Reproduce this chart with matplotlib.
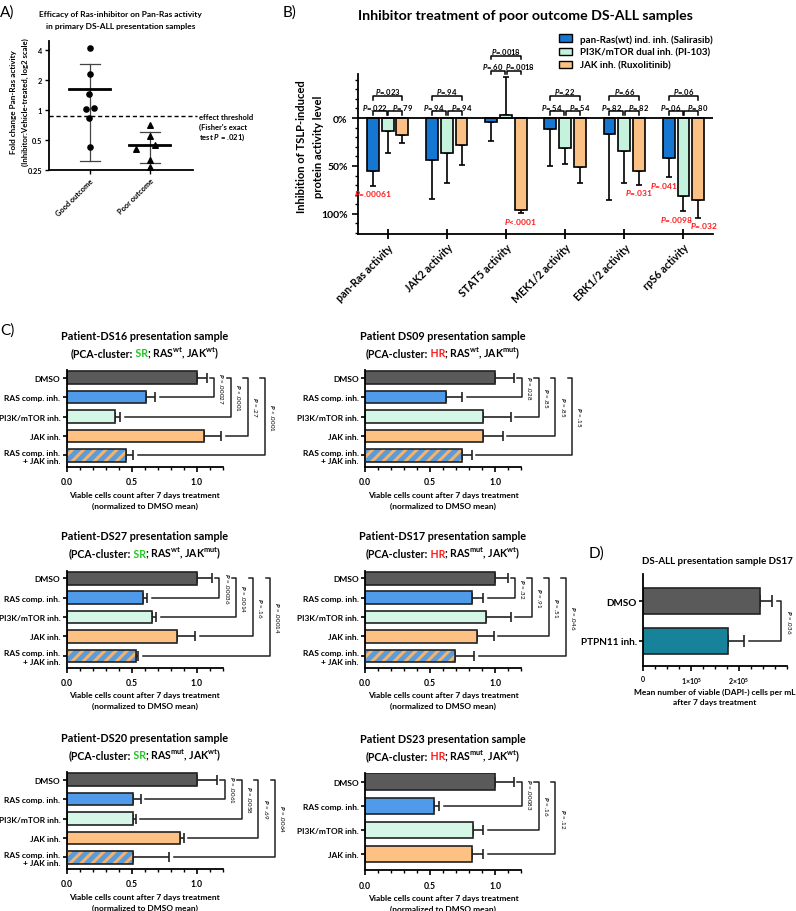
import numpy as np
import matplotlib
matplotlib.use("Agg")
import matplotlib.pyplot as plt
from matplotlib.patches import Patch
from matplotlib.ticker import MultipleLocator, NullLocator, FixedLocator

plt.rcParams['font.family'] = ['Lato', 'DejaVu Sans']
plt.rcParams['font.weight'] = 'bold'
plt.rcParams['axes.labelweight'] = 'bold'
plt.rcParams['mathtext.fontset'] = 'custom'
plt.rcParams['mathtext.default'] = 'regular'
plt.rcParams['mathtext.it'] = 'Lato:italic:bold'
plt.rcParams['hatch.linewidth'] = 2.2
plt.rcParams['axes.linewidth'] = 1.3

W, H = 796, 912
fig = plt.figure(figsize=(W / 100, H / 100), dpi=100)


def box(l, t, r, b):
    return [l / W, 1 - b / H, (r - l) / W, (b - t) / H]


def fx(x):
    return x / W


def fy(y):
    return 1 - y / H


# ---------------- data ----------------
# A) fold change pan-Ras activity
a_groups = ["Good outcome", "Poor outcome"]
good_vals = [4.2, 2.3, 1.45, 1.01, 1.05, 0.83, 0.425]
poor_vals = [0.707, 0.548, 0.448, 0.41, 0.315, 0.266]
good_mean, good_lo, good_hi = 1.62, 0.31, 2.9
poor_mean, poor_lo, poor_hi = 0.45, 0.296, 0.606
threshold = 0.87

# B) inhibition of TSLP-induced activity (%)
b_groups = ["pan-Ras activity", "JAK2 activity", "STAT5 activity",
            "MEK1/2 activity", "ERK1/2 activity", "rpS6 activity"]
b_series = ["pan-Ras(wt) ind. inh. (Salirasib)", "PI3K/mTOR dual inh. (PI-103)",
            "JAK inh. (Ruxolitinib)"]
salirasib = [55, 43.5, 4.5, 11.5, 16.4, 41.8]
salirasib_err = [15.7, 40.5, 19.5, 38.3, 68.6, 20.2]
pi103 = [14, 36, -3.5, 31, 34.8, 81.8]
pi103_err = [22.6, 32, 39, 16.7, 32.8, 15.7]
ruxo = [17.4, 28, 96, 51, 55, 86]
ruxo_err = [8.6, 20.8, 3.6, 16.6, 14.7, 17.8]
p_sal_pi = [".022", ".94", ".60", ".54", ".82", ".06"]
p_pi_rux = [".79", ".94", ".0018", ".54", ".82", ".80"]
p_sal_rux = [".023", ".94", ".0018", ".22", ".66", ".06"]
# significant vs. vehicle: (group, series, label)
b_sig = [(0, 0, "=.00061"), (2, 2, "<.0001"), (4, 2, "=.031"),
         (5, 0, "=.041"), (5, 1, "=.0098"), (5, 2, "=.032")]
b_sig_dx = [0, 0, 0, -0.08, -0.12, 0.09]

# C) viable cells (normalized to DMSO mean)
c_cats = ["DMSO", "RAS comp. inh.", "PI3K/mTOR inh.", "JAK inh.",
          "RAS comp. inh.\n+ JAK inh."]
ds16_mean = [1.0, 0.61, 0.37, 1.06, 0.46]
ds16_err = [0.08, 0.07, 0.04, 0.13, 0.05]
ds16_p = ["= .00027", "< .0001", "= .27", "< .0001"]
ds09_mean = [1.0, 0.62, 0.91, 0.91, 0.75]
ds09_err = [0.15, 0.13, 0.21, 0.15, 0.07]
ds09_p = ["= .028", "= .85", "= .85", "= .15"]
ds27_mean = [1.0, 0.59, 0.66, 0.85, 0.53]
ds27_err = [0.12, 0.03, 0.03, 0.14, 0.02]
ds27_p = ["= .00036", "= .0014", "= .16", "= .00014"]
ds17_mean = [1.0, 0.82, 0.93, 0.86, 0.69]
ds17_err = [0.10, 0.09, 0.19, 0.13, 0.15]
ds17_p = ["= .32", "= .91", "= .51", "= .046"]
ds20_mean = [1.0, 0.51, 0.51, 0.87, 0.51]
ds20_err = [0.16, 0.06, 0.02, 0.03, 0.28]
ds20_p = ["= .0061", "= .0058", "= .69", "= .0064"]
ds23_mean = [1.0, 0.53, 0.83, 0.82]
ds23_err = [0.15, 0.04, 0.08, 0.09]
ds23_p = ["= .00083", "= .16", "= .12"]

# D) DS17 PTPN11 inhibitor
d_cats = ["DMSO", "PTPN11 inh."]
d_mean = [2.45e5, 1.77e5]
d_err = [0.25e5, 0.33e5]
d_p = "= .036"

# colours
B_COLORS = ['#1677d2', '#c4f2dd', '#fbc184']
C_COLORS = ['#5a5a5a', '#509be9', '#d4f7e8', '#fdc183', '#5a9bd8']
HATCH_COLOR = '#f6b26b'
D_COLORS = ['#5a5a5a', '#17839b']
GREEN, RED = '#22c322', '#ff1a1a'


def rich(xc, yb, parts, size, kerns):
    r = fig.canvas.get_renderer()
    objs = [fig.text(0, fy(yb), s, color=c, fontsize=size, fontweight='bold',
                     ha='left', va='baseline') for s, c in parts]
    ws = [o.get_window_extent(renderer=r).width for o in objs]
    x = xc - (sum(ws) + sum(kerns)) / 2
    for o, w, k in zip(objs, ws, kerns):
        x += k
        o.set_x(fx(x))
        x += w


def style(ax):
    for s in ['top', 'right']:
        ax.spines[s].set_visible(False)


# ---------------- A ----------------
fig.text(fx(0), fy(12.5), "A)", fontsize=11, fontweight='normal', va='center')
axA = fig.add_axes(box(49, 42, 193, 171))
style(axA)
axA.set_yscale('log', base=2)
axA.set_ylim(0.25, 4.9)
axA.set_xlim(-0.68, 1.72)
jit_good = [0, 0, -0.02, -0.07, 0.07, -0.02, 0]
jit_poor = [0, 0, 0.09, -0.23, 0, 0]
axA.scatter(0 + np.array(jit_good), good_vals, s=14, marker='o', color='black', zorder=3)
axA.scatter(1 + np.array(jit_poor), poor_vals, s=16, marker='^', color='black', zorder=3,
            clip_on=False)
for i, (m, lo, hi) in enumerate([(good_mean, good_lo, good_hi), (poor_mean, poor_lo, poor_hi)]):
    axA.plot([i - 0.34, i + 0.34], [m, m], color='black', lw=2, zorder=2)
    axA.plot([i, i], [lo, hi], color='#444444', lw=0.9, zorder=1)
    axA.plot([i - 0.17, i + 0.17], [lo, lo], color='#444444', lw=0.9)
    axA.plot([i - 0.17, i + 0.17], [hi, hi], color='#444444', lw=0.9)
axA.plot([-0.68, 1.78], [threshold, threshold], ls=(0, (3, 2)), color='black', lw=1,
         clip_on=False)
axA.yaxis.set_major_locator(FixedLocator([0.25, 0.5, 1, 2, 4]))
axA.yaxis.set_minor_locator(NullLocator())
axA.set_yticklabels(["0.25", "0.5", "1", "2", "4"])
axA.set_xticks([0, 1])
axA.set_xticklabels(a_groups, rotation=45, ha='right', rotation_mode='anchor')
axA.tick_params(labelsize=5.3, width=1, length=3, pad=2)
fig.text(fx(120.5), fy(15), "Efficacy of Ras-inhibitor on Pan-Ras activity",
         fontsize=6, ha='center', va='center')
fig.text(fx(120.5), fy(26), "in primary DS-ALL presentation samples",
         fontsize=6, ha='center', va='center')
fig.text(fx(13.5), fy(102), "Fold change Pan-Ras activity", fontsize=5.9,
         rotation=90, ha='center', va='center')
fig.text(fx(25), fy(102), "(Inhibitor:Vehicle-treated, log2 scale)", fontsize=5.6,
         rotation=90, ha='center', va='center')
fig.text(fx(199), fy(117), "effect threshold", fontsize=5.5, va='center')
fig.text(fx(199), fy(127), "(Fisher's exact", fontsize=5.5, va='center')
fig.text(fx(199), fy(137), r"test $\it{P}$ = .021)", fontsize=5.5, va='center')

# ---------------- B ----------------
fig.text(fx(283), fy(12.5), "B)", fontsize=11, fontweight='normal', va='center')
fig.text(fx(525), fy(16), "Inhibitor treatment of poor outcome DS-ALL samples",
         fontsize=10.2, ha='center', va='center')
axB = fig.add_axes(box(358, 75, 713, 235))
style(axB)
xb = np.arange(len(b_groups))
offs = [-0.25, 0, 0.25]
b_vals = [salirasib, pi103, ruxo]
b_errs = [salirasib_err, pi103_err, ruxo_err]
for k in range(3):
    v = np.array(b_vals[k], dtype=float)
    e = np.array(b_errs[k], dtype=float)
    axB.bar(xb + offs[k], v, width=0.2, color=B_COLORS[k], edgecolor='black',
            linewidth=1.2, zorder=2, label=b_series[k])
    lower = np.where(v < 0, e, 0)
    upper = np.where(v >= 0, e, 0)
    axB.errorbar(xb + offs[k], v, yerr=[lower, upper], fmt='none', ecolor='black',
                 elinewidth=1.2, capsize=2, capthick=1.2, zorder=1)
axB.set_xlim(-0.5, 5.5)
axB.set_ylim(121, -46)
axB.axhline(0, color='black', lw=1.3, zorder=3)
axB.set_yticks([0, 50, 100])
axB.set_yticklabels(["0%", "50%", "100%"])
axB.yaxis.set_minor_locator(MultipleLocator(10))
axB.tick_params(axis='y', labelsize=7.5, width=1.2, length=4)
axB.tick_params(axis='y', which='minor', width=1, length=2.5)
axB.set_xticks(xb)
axB.set_xticklabels(b_groups, rotation=45, ha='right', rotation_mode='anchor')
axB.tick_params(axis='x', direction='inout', length=7, width=1.3, labelsize=7.6, pad=2)

tops = []
for g in range(len(b_groups)):
    ends = []
    for k in range(3):
        v = b_vals[k][g]
        ends.append(v - b_errs[k][g] if v < 0 else 0)
    tops.append(min(ends) - 3)


def b_bracket(x1, x2, y_leg, y_line, label, x_txt, y_txt):
    axB.plot([x1, x1, x2, x2], [y_leg, y_line, y_line, y_leg], color='black',
             lw=1.1, clip_on=False, zorder=4)
    axB.text(x_txt, y_txt, r"$\it{P}$" + label, fontsize=5.5, ha='center',
             va='center', clip_on=False)


for g in range(len(b_groups)):
    base = tops[g]
    b_bracket(g - 0.25, g - 0.015, base, base - 4, "=" + p_sal_pi[g], g - 0.22, base - 9)
    b_bracket(g + 0.015, g + 0.25, base, base - 4, "=" + p_pi_rux[g], g + 0.245, base - 9)
    b_bracket(g - 0.25, g + 0.25, base - 16, base - 19.6, "=" + p_sal_rux[g], g,
              base - 25)

for (g, k, lab), dx in zip(b_sig, b_sig_dx):
    end = b_vals[k][g] + b_errs[k][g]
    axB.text(g + offs[k] + dx, end + 7.5, r"$\it{P}$" + lab, color=RED, fontsize=6,
             ha='center', va='center', clip_on=False)

fig.text(fx(301.5), fy(147), "Inhibition of TSLP-induced", fontsize=8.1,
         rotation=90, ha='center', va='center')
fig.text(fx(318.5), fy(147), "protein activity level", fontsize=8.1,
         rotation=90, ha='center', va='center')
handles = [Patch(facecolor=c, edgecolor='black', lw=1) for c in B_COLORS]
fig.legend(handles, b_series, loc='upper left', bbox_to_anchor=(fx(559), fy(35)),
           frameon=False, prop=dict(size=7, weight='bold'), handlelength=1.3,
           handleheight=0.8, labelspacing=0.42, handletextpad=0.9,
           borderaxespad=0, borderpad=0)

# ---------------- C ----------------
fig.text(fx(0), fy(331), "C)", fontsize=11, fontweight='normal', va='center')


def c_panel(l, t, means, errs, pvals, patient, cluster, ccol, ras, jak):
    n = len(means)
    cats = c_cats[:n]
    if n == 5:
        hgt, ylim, bh = 97, (4.6, -0.4), 0.65
    else:
        hgt, ylim, bh = 97.2, (3.65, -0.35), 0.66
    ax = fig.add_axes(box(l, t, l + 156, t + hgt))
    style(ax)
    y = np.arange(n)
    for i in range(n):
        if i == 4:
            ax.barh(y[i], means[i], height=bh, color=C_COLORS[4], edgecolor=HATCH_COLOR,
                    hatch='///', linewidth=0, zorder=2)
            ax.barh(y[i], means[i], height=bh, fill=False, edgecolor='#222222',
                    linewidth=1.2, zorder=3)
        else:
            ax.barh(y[i], means[i], height=bh, color=C_COLORS[i], edgecolor='#222222',
                    linewidth=1.2, zorder=2)
    ax.errorbar(means, y, xerr=[np.zeros(n), errs], fmt='none', ecolor='#222222',
                elinewidth=1.2, capsize=3.4, capthick=1.2, zorder=1)
    ax.set_xlim(0, 1.2001)
    ax.set_ylim(*ylim)
    ax.set_yticks(y)
    ax.set_yticklabels(cats)
    ax.set_xticks([0, 0.5, 1.0])
    ax.set_xticklabels(["0.0", "0.5", "1.0"])
    ax.xaxis.set_minor_locator(MultipleLocator(0.1))
    ax.tick_params(axis='y', labelsize=6.0, width=1.2, length=3, pad=1.5)
    ax.tick_params(axis='x', labelsize=6.2, width=1.2, length=3.5, pad=4)
    ax.tick_params(axis='x', which='minor', width=1, length=2.5)
    ends = [m + e for m, e in zip(means, errs)]
    x0 = max(ends[0], ends[1]) + 0.055
    for i, p in enumerate(pvals):
        j = i + 1
        xb_ = x0 + i * 0.13
        ax.plot([xb_ - 0.035, xb_, xb_, ends[j] + 0.035], [0, 0, j, j],
                color='#222222', lw=1.1, clip_on=False)
        ax.text(xb_ + 0.055, j / 2, r"$\it{P}$ " + p, rotation=-90, fontsize=4.5,
                fontweight='normal', ha='center', va='center', clip_on=False)
    xc = l + 78
    fig.text(fx(xc), fy(t - 34.5), patient + " presentation sample", fontsize=7.8,
             ha='center', va='center')
    rich(xc, t - 14, [("(PCA-cluster:", 'black'), (" " + cluster, ccol),
                      ("; RAS$^{" + ras + "}$, JAK$^{" + jak + "}$)", 'black')], 7.6,
         [0, 0, -1.2])
    fig.text(fx(xc), fy(t + hgt + 27.3), "Viable cells count after 7 days treatment",
             fontsize=6.0, ha='center', va='center')
    fig.text(fx(xc), fy(t + hgt + 38), "(normalized to DMSO mean)",
             fontsize=6.0, ha='center', va='center')
    return ax


c_panel(66.7, 371, ds16_mean, ds16_err, ds16_p, "Patient-DS16", "SR", GREEN, "wt", "wt")
c_panel(365, 371, ds09_mean, ds09_err, ds09_p, "Patient DS09", "HR", RED, "wt", "mut")
c_panel(66.7, 571.5, ds27_mean, ds27_err, ds27_p, "Patient-DS27", "SR", GREEN, "wt", "mut")
c_panel(365, 571.5, ds17_mean, ds17_err, ds17_p, "Patient-DS17", "HR", RED, "mut", "wt")
c_panel(66.7, 773, ds20_mean, ds20_err, ds20_p, "Patient-DS20", "SR", GREEN, "mut", "wt")
c_panel(365, 774, ds23_mean, ds23_err, ds23_p, "Patient DS23", "HR", RED, "mut", "wt")

# ---------------- D ----------------
fig.text(fx(589), fy(554), "D)", fontsize=11, fontweight='normal', va='center')
axD = fig.add_axes(box(643.3, 575, 786.7, 666.7))
style(axD)
yd = np.arange(len(d_cats))
axD.barh(yd, d_mean, height=0.66, color=D_COLORS, edgecolor='#222222', linewidth=1.2,
         zorder=2)
axD.errorbar(d_mean, yd, xerr=[np.zeros(2), d_err], fmt='none', ecolor='#222222',
             elinewidth=1.2, capsize=4.5, capthick=1.2, zorder=1)
axD.set_xlim(0, 3.0e5)
axD.set_ylim(1.63, -0.69)
axD.set_yticks(yd)
axD.set_yticklabels(d_cats)
axD.set_xticks([0, 1e5, 2e5])
axD.set_xticklabels(["0", r"1×10$^5$", r"2×10$^5$"])
axD.xaxis.set_minor_locator(MultipleLocator(0.25e5))
axD.tick_params(axis='y', labelsize=7.2, width=1.2, length=3, pad=1.5)
axD.tick_params(axis='x', labelsize=5, width=1.2, length=3.5, pad=3)
axD.tick_params(axis='x', which='minor', width=1, length=2.5)
d_ends = [m + e for m, e in zip(d_mean, d_err)]
xbd = max(d_ends) + 0.19e5
axD.plot([xbd - 0.1e5, xbd, xbd, d_ends[1] + 0.12e5], [0, 0, 1, 1], color='#222222',
         lw=1.1, clip_on=False)
axD.text(xbd + 0.16e5, 0.5, r"$\it{P}$ " + d_p, rotation=-90, fontsize=4.5,
         fontweight='normal', ha='center', va='center', clip_on=False)
fig.text(fx(717), fy(561.5), "DS-ALL presentation sample DS17", fontsize=7.0,
         ha='center', va='center')
fig.text(fx(715), fy(692.7), "Mean number of viable (DAPI-) cells per mL",
         fontsize=6.0, ha='center', va='center')
fig.text(fx(715), fy(702.7), "after 7 days treatment", fontsize=6.0,
         ha='center', va='center')

fig.savefig("out.png", dpi=100)
